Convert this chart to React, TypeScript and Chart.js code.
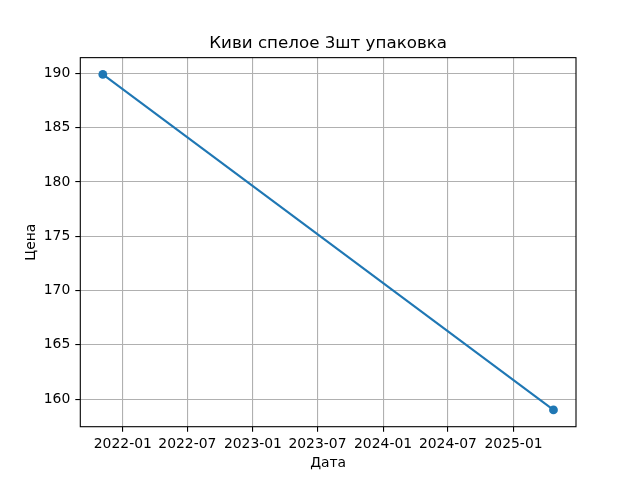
import { useEffect, useRef } from "react";
import { Chart, registerables } from "chart.js";

Chart.register(...registerables);

const title = "Киви спелое 3шт упаковка";
const xLabel = "Дата";
const yLabel = "Цена";

const dates = ["2021-11-06", "2025-04-23"];
const prices = [189.9, 159];

const xTickDates = ["2022-01", "2022-07", "2023-01", "2023-07", "2024-01", "2024-07", "2025-01"];
const yTicks = [160, 165, 170, 175, 180, 185, 190];

const DAY = 86400000;
const toDay = (s: string) => {
  const [y, m, d] = s.split("-").map(Number);
  return Date.UTC(y, m - 1, d || 1) / DAY;
};
const fmtDay = (v: number) => {
  const dt = new Date(v * DAY);
  return `${dt.getUTCFullYear()}-${String(dt.getUTCMonth() + 1).padStart(2, "0")}`;
};

const xs = dates.map(toDay);
const xMin = Math.min(...xs);
const xMax = Math.max(...xs);
const yMin = Math.min(...prices);
const yMax = Math.max(...prices);
const xPad = (xMax - xMin) * 0.05;
const yPad = (yMax - yMin) * 0.05;

const FONT = "'DejaVu Sans', sans-serif";

const spines = {
  id: "spines",
  afterDatasetsDraw(chart: Chart) {
    const { ctx, chartArea: a } = chart;
    ctx.save();
    ctx.strokeStyle = "#000";
    ctx.lineWidth = 1.1;
    ctx.strokeRect(a.left, a.top, a.right - a.left, a.bottom - a.top);
    ctx.restore();
  },
};

export default function App() {
  const canvasRef = useRef<HTMLCanvasElement | null>(null);

  useEffect(() => {
    if (!canvasRef.current) return;
    const chart = new Chart(canvasRef.current, {
      type: "line",
      data: {
        datasets: [
          {
            data: xs.map((x, i) => ({ x, y: prices[i] })),
            borderColor: "#1f77b4",
            backgroundColor: "#1f77b4",
            borderWidth: 2.1,
            pointRadius: 4.4,
            pointBorderWidth: 0,
            pointBackgroundColor: "#1f77b4",
            tension: 0,
          },
        ],
      },
      options: {
        animation: false,
        responsive: false,
        devicePixelRatio: 1,
        layout: { padding: { left: 0, right: 64, top: 0, bottom: 0 } },
        plugins: {
          legend: { display: false },
          tooltip: { enabled: false },
          title: {
            display: true,
            text: title,
            fullSize: false,
            color: "#000",
            font: { family: FONT, size: 16.7, weight: "normal" },
            padding: { top: 33.2, bottom: 4.4 },
          },
        },
        scales: {
          x: {
            type: "linear",
            min: xMin - xPad,
            max: xMax + xPad,
            afterBuildTicks: (scale) => {
              scale.ticks = xTickDates.map((d) => ({ value: toDay(d) }));
            },
            afterFit: (scale) => {
              scale.height = 53.3;
            },
            ticks: {
              autoSkip: false,
              maxRotation: 0,
              color: "#000",
              padding: 4,
              font: { family: FONT, size: 13.9 },
              callback: (v) => fmtDay(Number(v)),
            },
            grid: {
              color: "#b0b0b0",
              lineWidth: 1.1,
              tickColor: "#000",
              tickWidth: 1.1,
              tickLength: 5,
            },
            border: { display: false },
            title: {
              display: true,
              text: xLabel,
              color: "#000",
              font: { family: FONT, size: 13.9 },
              padding: { top: 0, bottom: 8.7 },
            },
          },
          y: {
            type: "linear",
            min: yMin - yPad,
            max: yMax + yPad,
            afterBuildTicks: (scale) => {
              scale.ticks = yTicks.map((value) => ({ value }));
            },
            afterFit: (scale) => {
              scale.width = 80.3;
            },
            ticks: {
              color: "#000",
              padding: 5,
              font: { family: FONT, size: 13.9 },
              callback: (v) => String(v),
            },
            grid: {
              color: "#b0b0b0",
              lineWidth: 1.1,
              tickColor: "#000",
              tickWidth: 1.1,
              tickLength: 5,
            },
            border: { display: false },
            title: {
              display: true,
              text: yLabel,
              color: "#000",
              font: { family: FONT, size: 13.9 },
              padding: { top: 22.7, bottom: 0 },
            },
          },
        },
      },
      plugins: [spines],
    });
    return () => chart.destroy();
  }, []);

  return (
    <div style={{ position: "fixed", left: 0, top: 0, width: 640, height: 480, background: "#fff" }}>
      <canvas ref={canvasRef} width={640} height={480} style={{ width: 640, height: 480 }} />
    </div>
  );
}
